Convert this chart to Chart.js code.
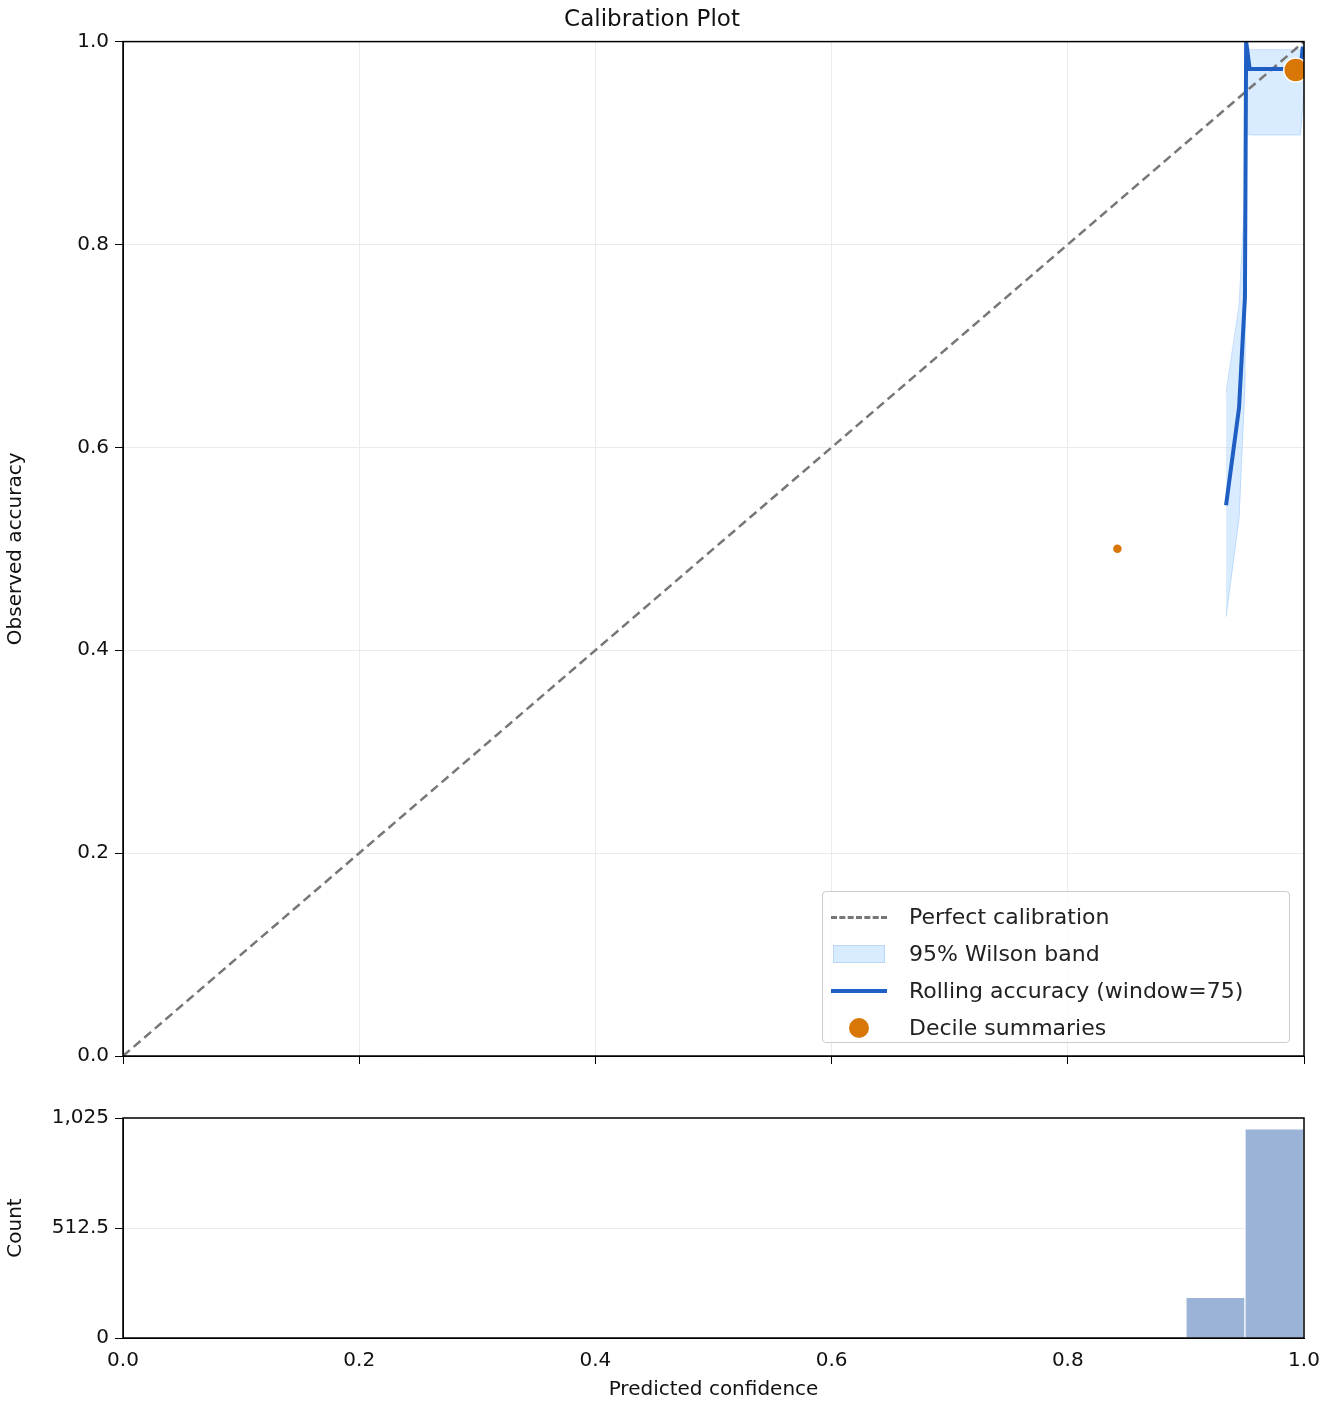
<!DOCTYPE html>
<html lang="en">
<head>
<meta charset="UTF-8" />
<title>Calibration Plot</title>
<script src="https://cdn.jsdelivr.net/npm/chart.js"></script>
<style>
  body { margin: 0; background: #fff; font-family: "DejaVu Sans", sans-serif; }
  #wrap { position: relative; width: 1332px; height: 1404px; }
  #top { position: absolute; left: 0; top: 0; width: 1332px; height: 1076px; }
  #bottom { position: absolute; left: 0; top: 1098px; width: 1332px; height: 306px; }
  .legend {
    position: absolute; left: 822px; top: 891px; width: 468px; height: 152px;
    border: 1px solid #ccc; border-radius: 4px; background: rgba(255,255,255,0.85);
    font-size: 22px; color: #222; box-sizing: border-box; padding-top: 6px;
  }
  .row { height: 37px; display: flex; align-items: center; }
  .sym { width: 56px; height: 20px; margin: 0 22px 0 8px; position: relative; }
</style>
</head>
<body>
<div id="wrap">
  <div id="top"><canvas id="calChart"></canvas></div>
  <div id="bottom"><canvas id="histChart"></canvas></div>
  <div class="legend">
    <div class="row"><div class="sym"><div style="position:absolute;top:9px;left:0;width:56px;border-top:3px dashed #777"></div></div>Perfect calibration</div>
    <div class="row"><div class="sym"><div style="position:absolute;top:1px;left:2px;width:50px;height:16px;background:rgba(147,197,253,0.35);border:1px solid #b9d7fb"></div></div>95% Wilson band</div>
    <div class="row"><div class="sym"><div style="position:absolute;top:8px;left:0;width:56px;height:4px;background:#1f5fc4"></div></div>Rolling accuracy (window=75)</div>
    <div class="row"><div class="sym"><div style="position:absolute;top:0;left:18px;width:20px;height:20px;border-radius:50%;background:#d97706"></div></div>Decile summaries</div>
  </div>
</div>
<script>
  const rollX = [0.934, 0.945, 0.950, 0.951, 0.954, 0.997, 0.999];
  const rollY = [0.543, 0.639, 0.748, 1.0, 0.973, 0.973, 0.995];
  const bandX = [0.934, 0.945, 0.950, 0.951, 0.954, 0.997, 1.0];
  const bandUpper = [0.654, 0.74, 0.85, 1.0, 0.992, 0.992, 1.0];
  const bandLower = [0.433, 0.53, 0.66, 0.91, 0.908, 0.908, 0.95];
  const decileX = [0.842, 0.993];
  const decileY = [0.50, 0.972];
  const decileR = [5, 12];
  const histCenters = [0.925, 0.975];
  const histCounts = [190, 975];

  const font = { family: "DejaVu Sans", size: 20 };
  Chart.defaults.color = "#111";

  const boxPlugin = {
    id: "box",
    afterDraw(chart) {
      const a = chart.chartArea, ctx = chart.ctx;
      ctx.save();
      ctx.strokeStyle = "#000";
      ctx.lineWidth = 1.5;
      ctx.strokeRect(a.left, a.top, a.right - a.left, a.bottom - a.top);
      ctx.restore();
    }
  };

  const pts = (xs, ys) => xs.map((x, i) => ({ x: x, y: ys[i] }));

  new Chart(document.getElementById("calChart"), {
    type: "scatter",
    data: {
      datasets: [
        { data: pts(decileX, decileY), backgroundColor: "#d97706", borderColor: "#fff", borderWidth: 1.5,
          pointRadius: decileR, order: 0 },
        { data: pts(rollX, rollY), showLine: true, borderColor: "#1f5fc4", borderWidth: 4, pointRadius: 0, order: 1 },
        { data: [{ x: 0, y: 0 }, { x: 1, y: 1 }], showLine: true, borderColor: "#777", borderWidth: 2.5,
          borderDash: [9, 5], pointRadius: 0, order: 2 },
        { data: pts(bandX, bandUpper), showLine: true, borderColor: "#c6defb", borderWidth: 1, pointRadius: 0,
          fill: "+1", backgroundColor: "rgba(147,197,253,0.35)", order: 3 },
        { data: pts(bandX, bandLower), showLine: true, borderColor: "#c6defb", borderWidth: 1, pointRadius: 0, order: 4 }
      ]
    },
    options: {
      responsive: true, maintainAspectRatio: false, animation: false,
      layout: { padding: { right: 28, left: 0 } },
      plugins: {
        legend: { display: false }, tooltip: { enabled: false },
        title: { display: true, text: "Calibration Plot", font: { family: "DejaVu Sans", size: 23, weight: "normal" },
          color: "#111", padding: { top: 6, bottom: 8 } }
      },
      scales: {
        x: { type: "linear", min: 0, max: 1,
          ticks: { stepSize: 0.2, callback: () => "" },
          grid: { color: "#ebebeb", tickColor: "#000", tickLength: 8 },
          border: { color: "#000" },
          afterFit: s => { s.height = 20; } },
        y: { min: 0, max: 1,
          ticks: { stepSize: 0.2, font: font, callback: v => v.toFixed(1), padding: 6 },
          grid: { color: "#ebebeb", tickColor: "#000", tickLength: 8 },
          border: { color: "#000" },
          title: { display: true, text: "Observed accuracy", font: font, padding: 4 },
          afterFit: s => { s.width = 123; } }
      }
    },
    plugins: [boxPlugin]
  });

  new Chart(document.getElementById("histChart"), {
    type: "bar",
    data: {
      datasets: [{ data: pts(histCenters, histCounts), backgroundColor: "#9ab3d6", borderColor: "#fff",
        borderWidth: 1, barPercentage: 1, categoryPercentage: 1 }]
    },
    options: {
      responsive: true, maintainAspectRatio: false, animation: false,
      layout: { padding: { right: 28, top: 20 } },
      plugins: { legend: { display: false }, tooltip: { enabled: false } },
      scales: {
        x: { type: "linear", min: 0, max: 1, offset: false,
          ticks: { stepSize: 0.2, font: font, callback: v => v.toFixed(1) },
          grid: { display: false, drawTicks: true, tickColor: "#000", tickLength: 8 },
          border: { color: "#000" },
          title: { display: true, text: "Predicted confidence", font: font, padding: 2 } },
        y: { min: 0, max: 1025,
          ticks: { stepSize: 500, font: font, padding: 6 },
          grid: { color: "#ebebeb", tickColor: "#000", tickLength: 8 },
          border: { color: "#000" },
          title: { display: true, text: "Count", font: font, padding: 4 },
          afterFit: s => { s.width = 123; } }
      }
    },
    plugins: [boxPlugin]
  });
</script>
</body>
</html>
